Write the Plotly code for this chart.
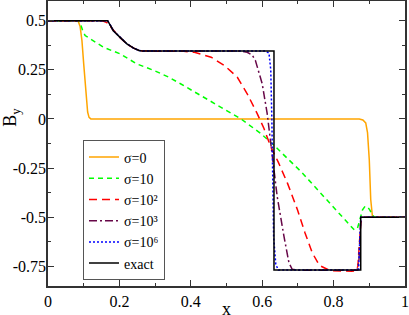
import plotly.graph_objects as go

# ---- data ----
x_s0 = [0, 0.084, 0.090, 0.095, 0.100, 0.104, 0.108, 0.111, 0.115, 0.120, 0.5, 0.872, 0.882, 0.890, 0.895, 0.900, 0.904, 0.909, 1.0]
y_s0 = [0.5, 0.5, 0.47, 0.40, 0.28, 0.18, 0.08, 0.035, 0.008, 0.0, 0.0, 0.0, -0.005, -0.02, -0.07, -0.21, -0.41, -0.5, -0.5]

x_s10 = [0, 0.085, 0.090, 0.097, 0.104, 0.118, 0.155, 0.202, 0.249, 0.296, 0.338, 0.371, 0.427, 0.483, 0.539,
         0.596, 0.633, 0.670, 0.710, 0.760, 0.810, 0.840, 0.858, 0.867, 0.874, 0.881, 0.888, 0.895, 0.902, 0.909, 0.915, 1.0]
y_s10 = [0.5, 0.5, 0.49, 0.45, 0.424, 0.407, 0.365, 0.331, 0.28, 0.247, 0.213, 0.179, 0.12, 0.061, 0.002,
         -0.074, -0.134, -0.20, -0.27, -0.37, -0.47, -0.53, -0.565, -0.555, -0.505, -0.463, -0.445, -0.446, -0.465, -0.49, -0.5, -0.5]

x_s1e2 = [0, 0.150, 0.165, 0.175, 0.185, 0.202, 0.221, 0.240, 0.260, 0.280, 0.380, 0.410, 0.457, 0.494, 0.530,
          0.558, 0.586, 0.605, 0.624, 0.645, 0.671, 0.699, 0.720, 0.740, 0.760, 0.790, 0.850, 0.862, 0.868, 0.872, 0.876, 0.880, 1.0]
y_s1e2 = [0.5, 0.5, 0.49, 0.47, 0.445, 0.413, 0.381, 0.360, 0.347, 0.345, 0.344, 0.339, 0.314, 0.272, 0.213,
          0.128, 0.027, -0.049, -0.142, -0.22, -0.328, -0.463, -0.58, -0.68, -0.745, -0.772, -0.775, -0.772, -0.75, -0.65, -0.53, -0.5, -0.5]

x_s1e3 = [0, 0.167, 0.175, 0.183, 0.202, 0.221, 0.240, 0.255, 0.268, 0.540, 0.558, 0.572, 0.581, 0.590, 0.600,
          0.614, 0.628, 0.642, 0.661, 0.675, 0.684, 0.700, 0.866, 0.871, 0.874, 0.877, 1.0]
y_s1e3 = [0.5, 0.5, 0.476, 0.449, 0.415, 0.382, 0.36, 0.348, 0.345, 0.345, 0.339, 0.325, 0.297, 0.24, 0.179,
          0.027, -0.193, -0.395, -0.598, -0.733, -0.765, -0.77, -0.77, -0.72, -0.58, -0.5, -0.5]

x_s1e6 = [0, 0.167, 0.175, 0.183, 0.202, 0.221, 0.240, 0.255, 0.266, 0.610, 0.619, 0.624, 0.627, 0.629, 0.632,
          0.638, 0.645, 0.870, 0.874, 0.876, 1.0]
y_s1e6 = [0.5, 0.5, 0.476, 0.449, 0.415, 0.382, 0.36, 0.348, 0.345, 0.345, 0.335, 0.25, 0.0, -0.3, -0.6,
          -0.74, -0.768, -0.768, -0.6, -0.5, -0.5]

x_exact = [0, 0.167, 0.175, 0.183, 0.202, 0.221, 0.240, 0.255, 0.265, 0.633, 0.633, 0.876, 0.876, 1.0]
y_exact = [0.5, 0.5, 0.475, 0.449, 0.415, 0.382, 0.36, 0.348, 0.345, 0.345, -0.768, -0.768, -0.5, -0.5]

x_ticks = [0, 0.2, 0.4, 0.6, 0.8, 1]
x_ticklabels = ["0", "0.2", "0.4", "0.6", "0.8", "1"]
y_ticks = [-0.75, -0.5, -0.25, 0, 0.25, 0.5]
y_ticklabels = ["-0.75", "-0.5", "-0.25", "0", "0.25", "0.5"]

series = [
    ("σ=0", x_s0, y_s0, "#FFA500", "solid"),
    ("σ=10", x_s10, y_s10, "#00FF00", "5px,4px"),
    ("σ=10²", x_s1e2, y_s1e2, "#FF0000", "8px,5px"),
    ("σ=10³", x_s1e3, y_s1e3, "rgb(103,7,72)", "8px,3px,2px,3px"),
    ("σ=10⁶", x_s1e6, y_s1e6, "#0000FF", "2px,2px"),
    ("exact", x_exact, y_exact, "#000000", "solid"),
]

fig = go.Figure()
for name, xs, ys, col, dash in series:
    fig.add_trace(go.Scatter(x=xs, y=ys, mode="lines", name=name,
                             line=dict(color=col, width=1.5, dash=dash)))

font_family = "Liberation Serif"
axis_common = dict(showgrid=False, zeroline=False, showline=True, linecolor="#333",
                   linewidth=1.5, mirror="ticks", ticks="inside", tickcolor="#333",
                   ticklen=6, tickwidth=1, automargin=False,
                   tickfont=dict(family=font_family, size=16, color="black"))

fig.update_xaxes(range=[0, 1], tickvals=x_ticks, ticktext=x_ticklabels,
                 minor=dict(ticks="inside", ticklen=3, dtick=0.1, tick0=0, tickcolor="#333"),
                 **axis_common)
fig.update_yaxes(range=[-0.85, 0.6], tickvals=y_ticks, ticktext=y_ticklabels,
                 minor=dict(ticks="inside", ticklen=3, dtick=0.125, tick0=0, tickcolor="#333"),
                 ticklabelstandoff=-3,
                 **axis_common)

fig.update_layout(
    width=409, height=315,
    margin=dict(l=48, r=4, t=1, b=29),
    paper_bgcolor="white", plot_bgcolor="white",
    font=dict(family=font_family, size=16, color="black"),
    legend=dict(x=0.098, y=0.265, xanchor="left", yanchor="middle",
                bgcolor="white", bordercolor="#555", borderwidth=1,
                font=dict(family=font_family, size=14, color="black"),
                tracegroupgap=0, itemwidth=30),
    showlegend=True,
    annotations=[
        dict(text="x", xref="paper", yref="paper", x=0.5, y=0, yshift=-11,
             xanchor="center", yanchor="top", showarrow=False,
             font=dict(family=font_family, size=18, color="black")),
        dict(text="B<sub>y</sub>", xref="paper", yref="paper", x=0, y=0.59, xshift=-36,
             xanchor="center", yanchor="middle", textangle=-90, showarrow=False,
             font=dict(family=font_family, size=18, color="black")),
    ],
)

fig.write_html("out.html", config={"displayModeBar": False},
               post_script="document.body.style.margin='0';document.body.style.padding='0';")
